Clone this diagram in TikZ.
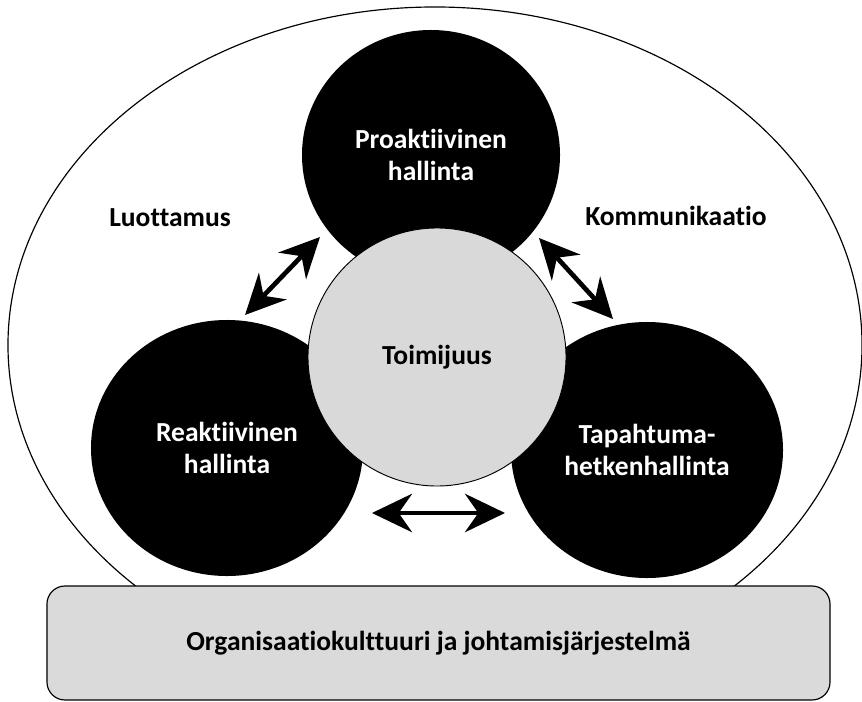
\documentclass[tikz,border=0pt]{standalone}
\usepackage{fontspec}
\setmainfont{Carlito}[Ligatures={NoCommon}]
\usetikzlibrary{positioning}
\usetikzlibrary{arrows.meta}
\usetikzlibrary{shapes.geometric}

\definecolor{toimgrey}{HTML}{D9D9D9}
\definecolor{basegrey}{HTML}{DADADA}

\begin{document}
\begin{tikzpicture}[x=0.03cm, y=-0.03cm,
                    every node/.append style={font=\fontsize{23.5}{28}\selectfont\bfseries, align=center, inner sep=0pt, outer sep=0pt},
                    blackball/.style={ellipse, fill=black, text=white, minimum width=8.16cm, minimum height=7.68cm},
                    greyball/.style={circle, draw, fill=toimgrey, line width=0.8pt, minimum size=7.74cm},
                    basebox/.style={rectangle, rounded corners=0.54cm, draw, fill=basegrey, line width=1pt, minimum width=23.49cm, minimum height=3.42cm},
                    twoway/.style={{Stealth[length=1.2cm, width=1.15cm, inset=0.4cm]}-{Stealth[length=1.2cm, width=1.15cm, inset=0.4cm]}, line width=4pt}]
    \useasboundingbox (0,0) rectangle (862,702);

    % Outer frame
    \node [ellipse, draw, line width=1pt, minimum width=25.62cm, minimum height=20.28cm] (frame) at (435,345) {};

    % The three ways of managing
    \node [blackball, minimum width=7.74cm, minimum height=7.5cm] (proak) at (431,155) {Proaktiivinen\\hallinta};
    \node [blackball] (reak) at (227,448) {Reaktiivinen\\hallinta};
    \node [blackball] (tapa) at (647,450) {Tapahtuma-\\hetkenhallinta};

    \node [greyball] (toim) at (437,357) {Toimijuus};

    % Side labels
    \node (luott) at (170,218) {Luottamus};
    \node (komm) at (676,216) {Kommunikaatio};

    % Arrow end points
    \coordinate (luott_a) at (245,315);
    \coordinate (luott_b) at (320,237);
    \coordinate (komm_a) at (539,238);
    \coordinate (komm_b) at (613,319);
    \coordinate (ala_a) at (372,513);
    \coordinate (ala_b) at (505,513);

    % Draw the arrows
    \draw [twoway] (luott_a) -- (luott_b);
    \draw [twoway] (komm_a)  -- (komm_b);
    \draw [twoway] (ala_a)   -- (ala_b);

    \node [basebox] (kulttuuri) at (438.5,643) {Organisaatiokulttuuri ja johtamisjärjestelmä};
\end{tikzpicture}
\end{document}
